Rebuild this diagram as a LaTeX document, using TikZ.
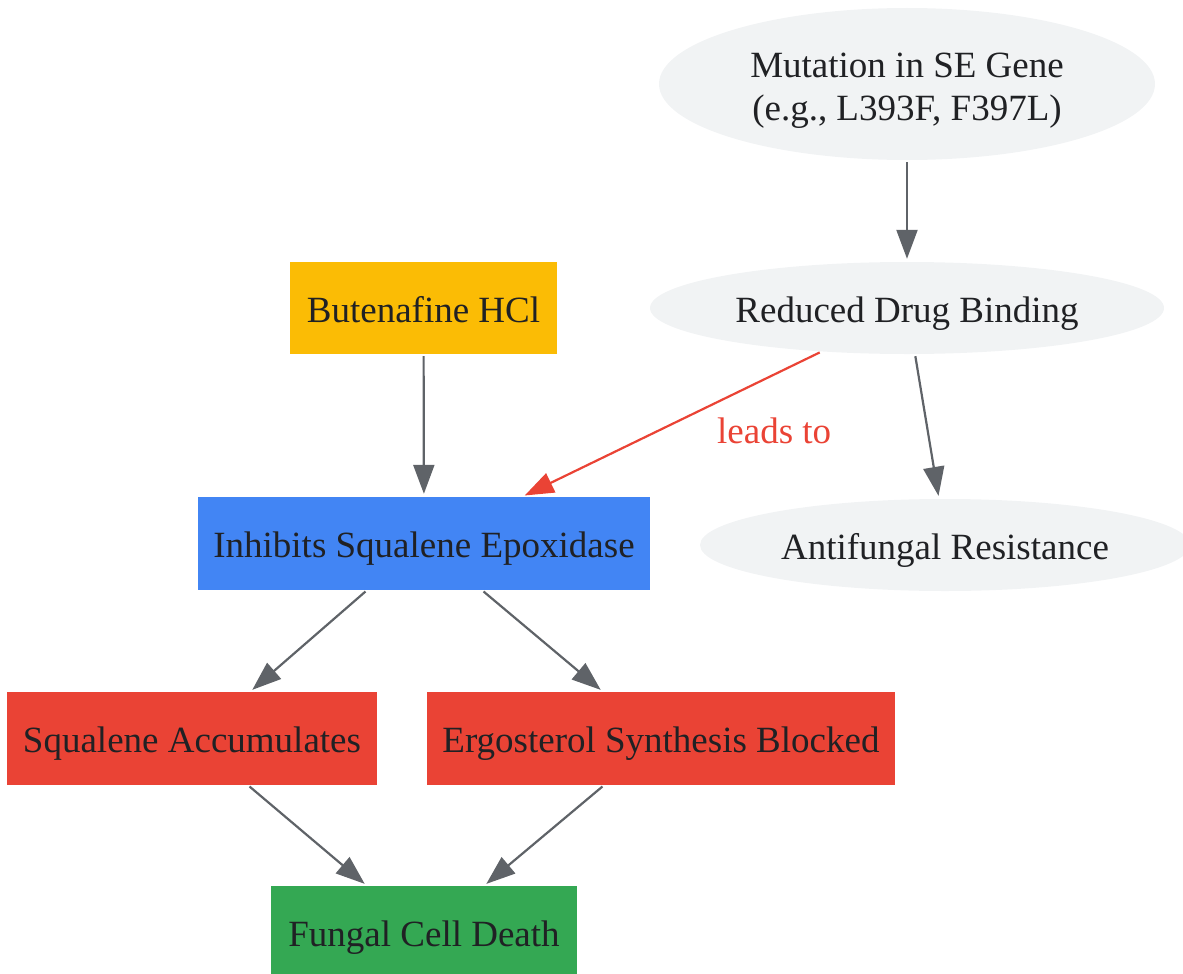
\documentclass[tikz,border=0pt]{standalone}
\usepackage{fontspec}
\setmainfont{Liberation Serif}
\usetikzlibrary{shapes.geometric,arrows.meta}
\definecolor{inkGrey}{HTML}{202124}
\definecolor{edgeGrey}{HTML}{5F6368}
\definecolor{paleGrey}{HTML}{F1F3F4}
\definecolor{gYellow}{HTML}{FBBC05}
\definecolor{gBlue}{HTML}{4285F4}
\definecolor{gRed}{HTML}{EA4335}
\definecolor{gGreen}{HTML}{34A853}

\begin{document}
\begin{tikzpicture}[x=1pt,y=-1pt,
    every node/.style={font=\fontsize{37}{43}\selectfont, text=inkGrey},
    oneline/.style={text height=36pt, text depth=8pt},
    stepbox/.style={rectangle, oneline, inner sep=0pt, minimum height=93pt},
    geneoval/.style={ellipse, fill=paleGrey, inner sep=0pt},
    link/.style={draw=edgeGrey, line width=2.2pt, -{Triangle[length=29pt,width=21pt]},
                 shorten <=2pt, shorten >=3pt}]
    \clip (0,0) rectangle (1183,974);
    \useasboundingbox (0,0) rectangle (1183,974);
    % gene side
    \node[geneoval, minimum width=496pt, minimum height=152pt, align=center] (mut) at (907,84)
        {\rule{0pt}{37pt}Mutation in SE Gene\\(e.g., L393F, F397L)};
    \node[geneoval, oneline, minimum width=514pt, minimum height=92pt] (red) at (907,308) {Reduced Drug Binding};
    \node[geneoval, oneline, minimum width=490pt, minimum height=92pt] (res) at (945,545) {Antifungal Resistance};
    % drug side
    \node[stepbox, fill=gYellow, minimum width=267pt, minimum height=92pt] (drug) at (423.5,308) {Butenafine HCl};
    \node[stepbox, fill=gBlue, minimum width=452pt] (inh) at (424,543.5) {Inhibits Squalene Epoxidase};
    \node[stepbox, fill=gRed, minimum width=370pt] (sq) at (192,738.5) {Squalene Accumulates};
    \node[stepbox, fill=gRed, minimum width=468pt] (erg) at (661,738.5) {Ergosterol Synthesis Blocked};
    \node[stepbox, fill=gGreen, minimum width=306pt] (death) at (424,932.5) {Fungal Cell Death};
    % links
    \draw[link] (mut) -- (red);
    \draw[link] (drug) -- (inh);
    \draw[link, draw=gRed] (red.207) -- ([xshift=98pt]inh.north)
        node[pos=0.35, below right=0pt, oneline, text=gRed, xshift=-4pt, yshift=-1pt] (lbl) {leads to};
    \draw[link] ([xshift=8pt]red.south) -- ([xshift=-6pt]res.north);
    \draw[link] ([xshift=-57pt]inh.south) -- ([xshift=58pt]sq.north);
    \draw[link] ([xshift=58pt]inh.south) -- ([xshift=-58pt]erg.north);
    \draw[link] ([xshift=56pt]sq.south) -- ([xshift=-57pt]death.north);
    \draw[link] ([xshift=-57pt]erg.south) -- ([xshift=60pt]death.north);
\end{tikzpicture}
\end{document}
